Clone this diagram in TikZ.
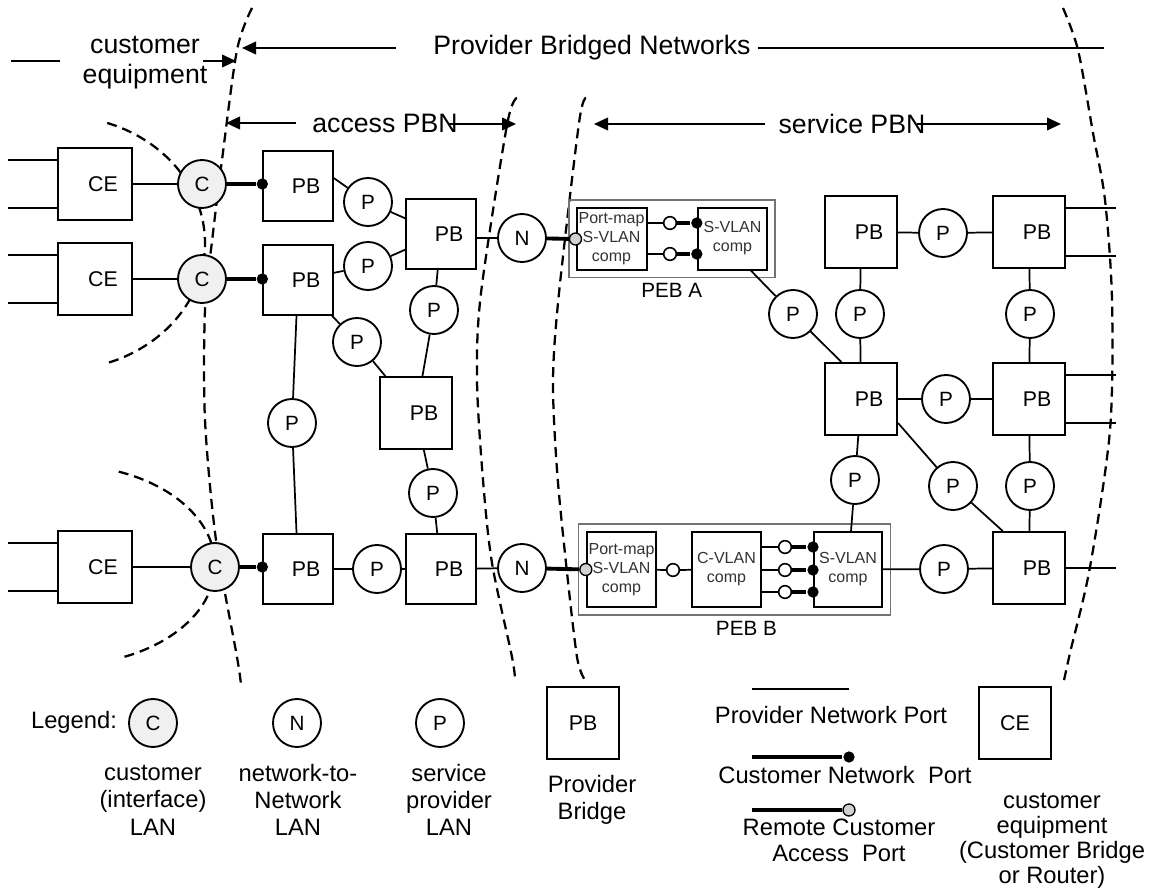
\documentclass[tikz,border=0pt]{standalone}
\usepackage{fontspec}
\setmainfont{Liberation Sans}
\usetikzlibrary{arrows.meta,positioning,fit}

\begin{document}
\begin{tikzpicture}[
  x=0.75pt, y=-0.75pt,
  line width=1.3pt,
  bigtxt/.style={font=\fontsize{20}{22.5}\selectfont, align=center, inner sep=1pt},
  legtxt/.style={font=\fontsize{17.8}{20.5}\selectfont, align=center, inner sep=1pt},
  box/.style={draw, line width=1.5pt, fill=white, minimum width=53pt, minimum height=53pt,
    inner sep=0pt, font=\fontsize{16}{18}\selectfont},
  pbox/.style={box, execute at begin node={\hspace*{12pt}}},
  lan/.style={circle, draw, line width=1.4pt, fill=white, minimum size=36pt, inner sep=0pt,
    font=\fontsize{15.5}{18}\selectfont},
  clan/.style={lan, fill=black!6},
  comp/.style={draw, line width=1.5pt, fill=white, minimum width=52.5pt, minimum height=46.5pt,
    inner sep=0pt, align=center, font=\fontsize{12}{14.2}\selectfont, text=black!80},
  peb/.style={draw=black!55, line width=1.2pt, inner sep=5pt},
  cnp/.style={circle, fill=black, inner sep=0pt, minimum size=8.5pt},
  rcap/.style={circle, draw, line width=1pt, fill=black!18, inner sep=0pt, minimum size=9pt},
  opn/.style={circle, draw, line width=1.2pt, fill=white, inner sep=0pt, minimum size=9.5pt},
  cport/.style={line width=2.9pt},
  bound/.style={line width=1.7pt, dash pattern=on 7.5pt off 4.5pt},
  harr/.style={-{Triangle[length=10.5pt,width=9.5pt]}, line width=1.3pt}
]
\useasboundingbox (0,0) rectangle (1149,895);

\draw[bound] plot[smooth] coordinates {(252,8) (237,50) (222,160) (213,233) (205,310) (205,420) (216,540) (237,657) (241,685)};
\draw[bound] plot[smooth] coordinates {(517,98) (507,125) (481,293) (477,380) (483,480) (492,563) (512,657) (515,680)};
\draw[bound] plot[smooth] coordinates {(586,98) (579,123) (559,293) (553,380) (557,470) (566,563) (577,657) (585,680)};
\draw[bound] plot[smooth] coordinates {(1063,8) (1078,50) (1093,133) (1105,200) (1112,300) (1110,430) (1090,567) (1070,653) (1063,685)};
\draw[bound] plot[domain=71:-71, samples=40, smooth] ({60+145*cos(\x)},{243-127*sin(\x)});
\draw[bound] plot[domain=69:-69, samples=40, smooth] ({65+150*cos(\x)},{565-100*sin(\x)});

\draw (11,61) -- (60,61);
\node[bigtxt] (custeq) at (145,63) {customer\\equipment};
\coordinate (ceA) at (203,61);
\coordinate (ceB) at (236,61);
\draw[harr] (ceA) -- (ceB);
\node[bigtxt] (pbn) at (592,48) {Provider Bridged Networks};
\coordinate (pbA) at (396,48);
\coordinate (pbB) at (242,48);
\coordinate (pbC) at (758,48);
\coordinate (pbD) at (1104,48);
\draw[harr] (pbA) -- (pbB);
\draw (pbC) -- (pbD);
\node[bigtxt] (apbn) at (385,123) {access PBN};
\coordinate (apA) at (296,123);
\coordinate (apB) at (226,123);
\coordinate (apC) at (448,124);
\coordinate (apD) at (516,124);
\draw[harr] (apA) -- (apB);
\draw[harr] (apC) -- (apD);
\node[bigtxt] (spbn) at (852,124) {service PBN};
\coordinate (spA) at (765,124);
\coordinate (spB) at (594,124);
\coordinate (spC) at (917,124);
\coordinate (spD) at (1061,124);
\draw[harr] (spA) -- (spB);
\draw[harr] (spC) -- (spD);

\node[pbox, minimum width=55pt, minimum height=54pt] (ce1) at (95,184) {CE};
\node[pbox, minimum width=55pt, minimum height=54pt] (ce2) at (95,279) {CE};
\node[pbox, minimum width=55pt, minimum height=54pt] (ce3) at (95,567) {CE};
\node[clan] (c1) at (202,184) {C};
\node[clan] (c2) at (202,279) {C};
\node[clan] (c3) at (215,567) {C};
\node[pbox, minimum size=52pt] (pb1) at (298,186) {PB};
\node[pbox, minimum size=52pt] (pb2) at (441,234) {PB};
\node[pbox, minimum size=52pt] (pb3) at (298,280) {PB};
\node[pbox, minimum size=54pt] (pbm) at (416,413) {PB};
\node[pbox, minimum size=52pt] (pb4) at (298,569) {PB};
\node[pbox, minimum size=52pt] (pb5) at (441,569) {PB};
\node[lan] (p1) at (368,202) {P};
\node[lan] (p2) at (368,266) {P};
\node[lan] (p3) at (434,310) {P};
\node[lan] (p4) at (357,342) {P};
\node[lan] (p5) at (433,493) {P};
\node[lan] (p6) at (292,423) {P};
\node[lan] (p7) at (377,569) {P};
\node[lan] (n1) at (522,238) {N};
\node[lan] (n2) at (522,568) {N};

\foreach \ce in {ce1,ce2,ce3} {
  \draw ([yshift=18pt]\ce.west) -- +(-49,0);
  \draw ([yshift=-18pt]\ce.west) -- +(-49,0);
}
\node[cnp] (d1) at (pb1.west |- c1) {};
\node[cnp] (d2) at (pb3.west |- c2) {};
\node[cnp] (d3) at (pb4.west |- c3) {};
\draw (ce1) -- (c1);
\draw (ce2) -- (c2);
\draw (ce3) -- (c3);
\draw[cport] (c1) -- (d1);
\draw[cport] (c2) -- (d2);
\draw[cport] (c3) -- (d3);
\draw ([yshift=6pt]pb1.east) -- (p1);
\draw (p1) -- (pb2);
\draw (pb2.east |- n1) -- (n1);
\draw (pb3) -- (p2) -- (pb2);
\draw (pb2) -- (p3) -- (pbm);
\draw (pb3) -- (p4) -- (pbm);
\draw (pb3) -- (p6) -- (pb4);
\draw (pbm) -- (p5) -- (pb5);
\draw (pb4) -- (p7) -- (pb5) -- (n2);

\node[comp] (pma) at (611.5,239) {Port-map\\S-VLAN\\comp};
\node[comp, minimum width=52pt] (sva) at (732.5,238.5) {S-VLAN\\comp};
\node[peb, fit=(pma)(sva)] (peba) {};
\node[font=\fontsize{15.5}{17}\selectfont, below=0pt of peba] (pebal) {PEB A};
\node[rcap] (ga) at (pma.west) {};
\draw[cport] (n1) -- (ga);
\foreach \y [count=\i] in {223,254} {
  \node[opn] (oa\i) at (670,\y) {};
  \node[cnp] (ba\i) at (sva.west |- oa\i) {};
  \draw (pma.east |- oa\i) -- (oa\i);
  \draw[cport] (oa\i) -- (ba\i);
}

\node[comp, minimum width=52pt, minimum height=56pt] (pmb) at (621.5,569.5) {Port-map\\S-VLAN\\comp};
\node[comp, minimum width=52pt, minimum height=56pt] (cvb) at (726.5,569.5) {C-VLAN\\comp};
\node[comp, minimum width=51pt, minimum height=56pt] (svb) at (848,569.5) {S-VLAN\\comp};
\node[peb, inner sep=5.5pt, fit=(pmb)(svb)] (pebb) {};
\node[font=\fontsize{15.5}{17}\selectfont, below=0pt of pebb, xshift=9pt] (pebbl) {PEB B};
\node[rcap] (gb) at (pmb.west) {};
\draw[cport] (n2) -- (gb);
\node[opn] (ob0) at (673,570) {};
\draw (pmb) -- (ob0) -- (cvb);
\foreach \y [count=\i] in {547,570,592} {
  \node[opn] (ob\i) at (785,\y) {};
  \node[cnp] (bb\i) at (svb.west |- ob\i) {};
  \draw (cvb.east |- ob\i) -- (ob\i);
  \draw[cport] (ob\i) -- (bb\i);
}

\node[pbox, minimum size=54pt] (pbt1) at (861,232) {PB};
\node[pbox, minimum size=54pt] (pbt2) at (1029,232) {PB};
\node[pbox, minimum size=54pt] (pbc) at (861,399) {PB};
\node[pbox, minimum size=54pt] (pbr2) at (1029,399) {PB};
\node[pbox, minimum size=54pt] (pbr3) at (1029,568) {PB};
\node[lan] (pt1) at (943,233) {P};
\node[lan] (pa) at (793,314) {P};
\node[lan] (pt2) at (860,314) {P};
\node[lan] (pt3) at (1030,314) {P};
\node[lan] (pc1) at (946,399) {P};
\node[lan] (pd1) at (855,480) {P};
\node[lan] (pd2) at (953,486) {P};
\node[lan] (pd3) at (1030,486) {P};
\node[lan] (pe) at (944,569) {P};

\draw ([xshift=-13pt]sva.south east) -- (pa);
\draw (pa) -- ([xshift=13pt]pbc.north west);
\draw (pbt1) -- (pt1) -- (pbt2);
\draw (pbt1) -- (pt2) -- (pbc);
\draw (pbt2) -- (pt3) -- (pbr2);
\draw (pbc) -- (pc1) -- (pbr2);
\draw (pbc) -- (pd1) -- (svb);
\draw ([yshift=-18pt]pbc.east) -- (pd2);
\draw (pd2) -- ([xshift=8pt]pbr3.north west);
\draw (pbr2) -- (pd3) -- (pbr3);
\draw (svb) -- (pe) -- (pbr3);
\draw ([yshift=18pt]pbt2.east) -- +(50,0);
\draw ([yshift=-18pt]pbt2.east) -- +(50,0);
\draw ([yshift=18pt]pbr2.east) -- +(50,0);
\draw ([yshift=-18pt]pbr2.east) -- +(50,0);
\draw (pbr3.east) -- +(50,0);

\node[legtxt] (leg) at (74,722) {Legend:};
\node[clan] (lc) at (153,723) {C};
\node[legtxt] (lct) at (153,800) {customer\\(interface)\\LAN};
\node[lan] (ln) at (297,723) {N};
\node[legtxt] (lnt) at (298,800) {network-to-\\Network\\LAN};
\node[lan] (lp) at (440,723) {P};
\node[legtxt] (lpt) at (449,800) {service\\provider\\LAN};
\node[box, minimum size=54pt] (lpb) at (583,723) {PB};
\node[legtxt] (lpbt) at (592,800) {Provider\\Bridge};
\coordinate (lpnA) at (752,689);
\coordinate (lpnB) at (849,689);
\draw (lpnA) -- (lpnB);
\node[legtxt] (lpnt) at (831,715) {Provider Network Port};
\coordinate (lcnA) at (752,757);
\node[cnp] (lcnB) at (849,757) {};
\draw[cport] (lcnA) -- (lcnB);
\node[legtxt] (lcnt) at (845,775) {Customer Network\ \ Port};
\coordinate (lrcA) at (752,810);
\node[rcap] (lrcB) at (849,810) {};
\draw[cport] (lrcA) -- (lrcB);
\node[legtxt, font=\fontsize{17.8}{19.5}\selectfont] (lrct) at (839,840) {Remote Customer\\Access\ \ Port};
\node[box, minimum size=54pt] (lce) at (1015,723) {CE};
\node[legtxt, font=\fontsize{17.8}{18.8}\selectfont] (lcet) at (1052,841) {customer\\equipment\\(Customer Bridge\\or Router)};
\end{tikzpicture}
\end{document}
